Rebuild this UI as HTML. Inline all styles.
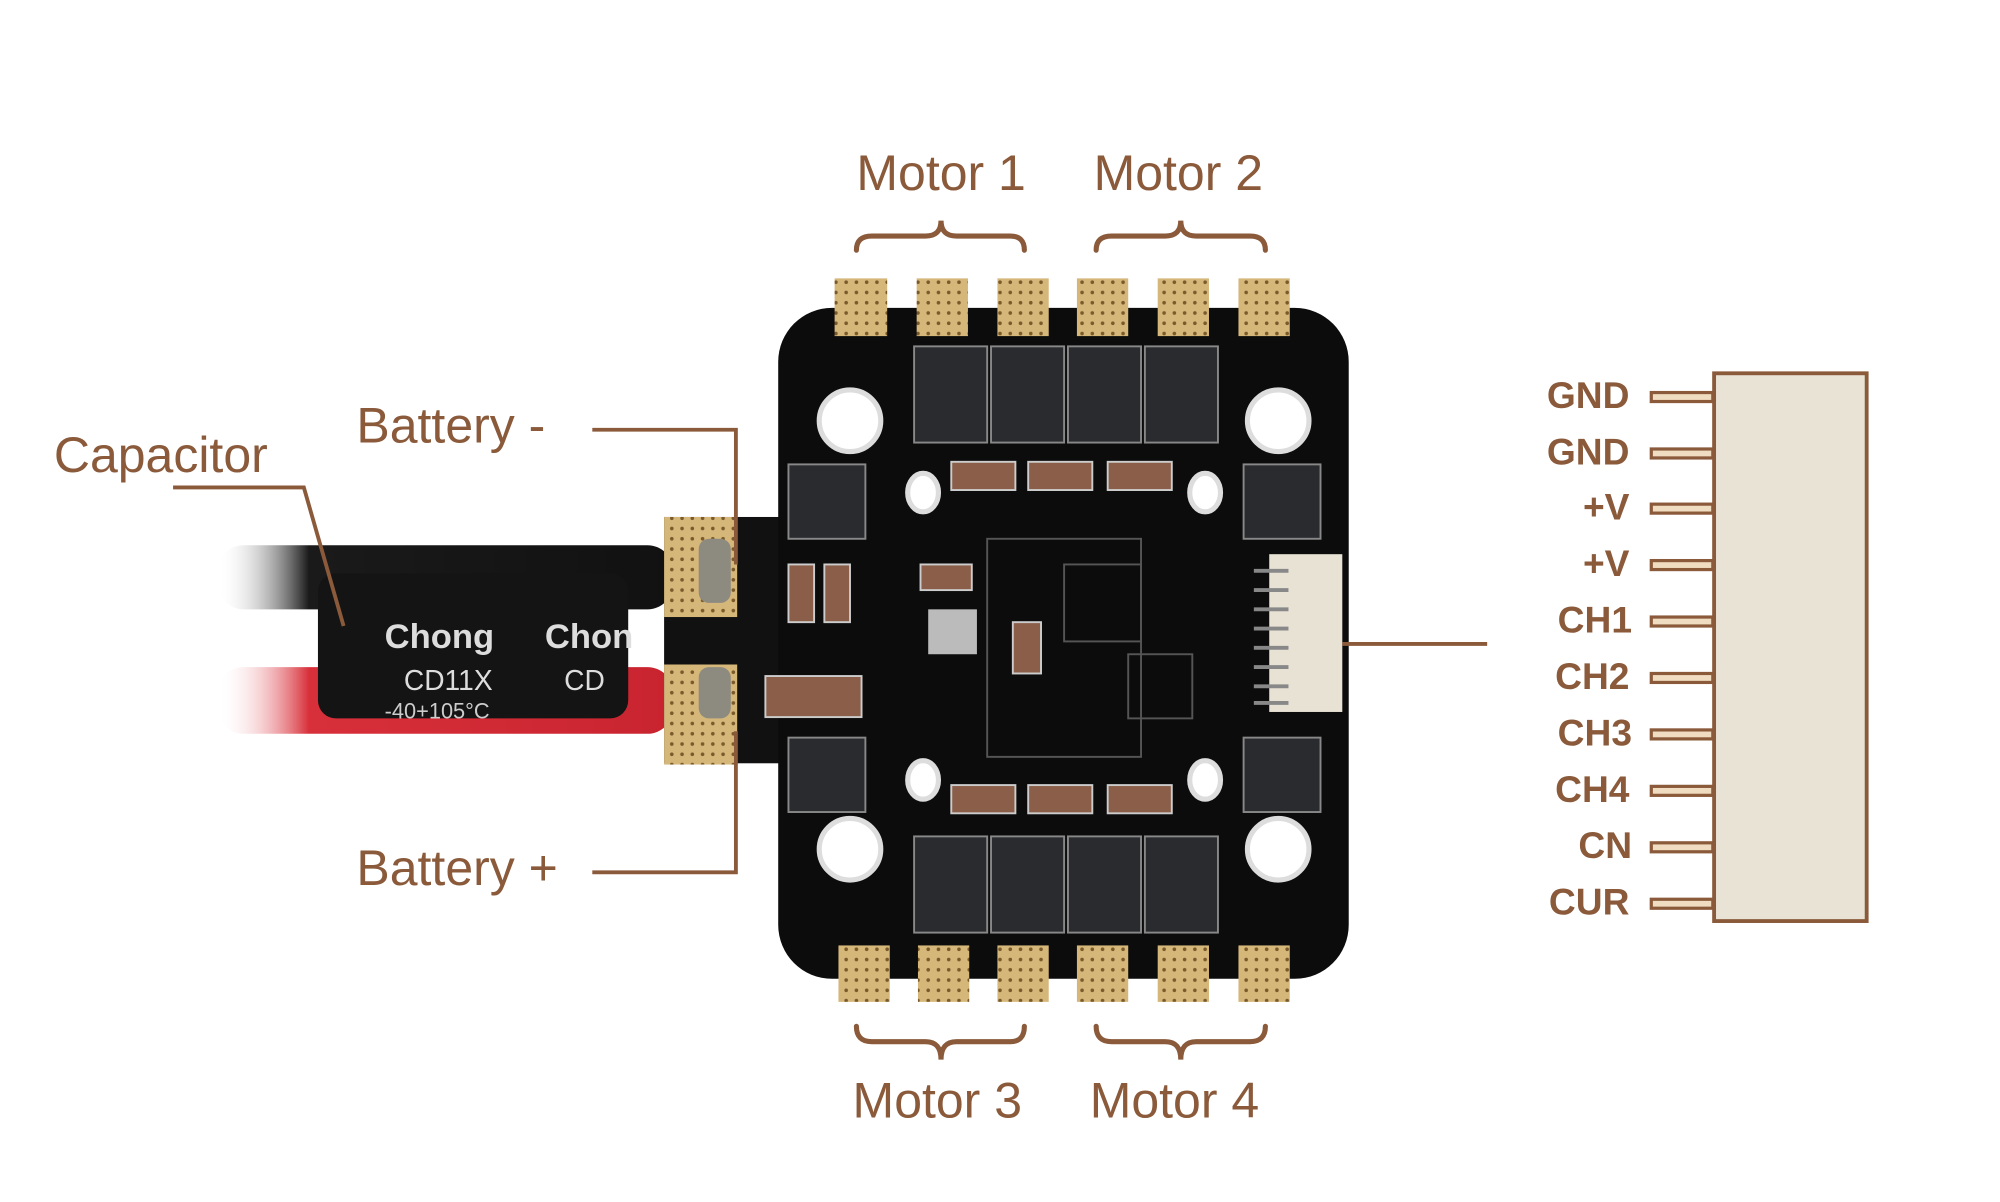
<!DOCTYPE html>
<html><head><meta charset="utf-8"><style>
html,body{margin:0;padding:0;background:#fff;}
svg{display:block;}
.lbl{font-family:"Liberation Sans",sans-serif;fill:#8a5a3b;}
</style></head><body>
<svg width="2000" height="1202" viewBox="0 0 1560 937" preserveAspectRatio="none" xmlns="http://www.w3.org/2000/svg">
<defs>
<pattern id="dots" width="8" height="8" patternUnits="userSpaceOnUse">
<rect width="8" height="8" fill="#d6b77a"/><circle cx="4" cy="4" r="1.4" fill="#7a5a2a"/>
</pattern>
<linearGradient id="wb" x1="0" x2="1"><stop offset="0" stop-color="#fff" stop-opacity="0"/><stop offset="0.2" stop-color="#1a1a1a"/><stop offset="1" stop-color="#111"/></linearGradient>
<linearGradient id="wr" x1="0" x2="1"><stop offset="0" stop-color="#fff" stop-opacity="0"/><stop offset="0.2" stop-color="#d8303a"/><stop offset="1" stop-color="#c82430"/></linearGradient>
</defs>

<!-- wires -->
<rect x="170" y="425" width="355" height="50" rx="20" fill="url(#wb)"/>
<rect x="170" y="520" width="355" height="52" rx="20" fill="url(#wr)"/>
<!-- capacitor -->
<rect x="248" y="447" width="242" height="113" rx="14" fill="#141414"/>
<text x="300" y="505" font-family="Liberation Sans,sans-serif" font-size="27" font-weight="bold" fill="#ddd">Chong</text>
<text x="425" y="505" font-family="Liberation Sans,sans-serif" font-size="27" font-weight="bold" fill="#ddd">Chon</text>
<text x="315" y="538" font-family="Liberation Sans,sans-serif" font-size="22" fill="#ddd">CD11X</text>
<text x="440" y="538" font-family="Liberation Sans,sans-serif" font-size="22" fill="#ddd">CD</text>
<text x="300" y="560" font-family="Liberation Sans,sans-serif" font-size="17" fill="#ccc">-40+105°C</text>

<!-- left tab -->
<rect x="518" y="403" width="95" height="192" fill="#111"/>
<rect x="518" y="403" width="57" height="78" fill="url(#dots)"/>
<rect x="518" y="518" width="57" height="78" fill="url(#dots)"/>
<rect x="545" y="420" width="25" height="50" rx="8" fill="#8d8a80"/>
<rect x="545" y="520" width="25" height="40" rx="8" fill="#8d8a80"/>

<!-- board -->
<rect x="607" y="240" width="445" height="523" rx="42" fill="#0c0c0c"/>
<!-- top pads -->
<g fill="url(#dots)">
<rect x="651" y="217" width="41" height="45"/><rect x="715" y="217" width="40" height="45"/><rect x="778" y="217" width="40" height="45"/>
<rect x="840" y="217" width="40" height="45"/><rect x="903" y="217" width="40" height="45"/><rect x="966" y="217" width="40" height="45"/>
<rect x="654" y="737" width="40" height="44"/><rect x="716" y="737" width="40" height="44"/><rect x="778" y="737" width="40" height="44"/>
<rect x="840" y="737" width="40" height="44"/><rect x="903" y="737" width="40" height="44"/><rect x="966" y="737" width="40" height="44"/>
</g>
<!-- mosfets -->
<g fill="#2a2b2e" stroke="#888" stroke-width="1.5">
<rect x="713" y="270" width="57" height="75"/><rect x="773" y="270" width="57" height="75"/><rect x="833" y="270" width="57" height="75"/><rect x="893" y="270" width="57" height="75"/>
<rect x="713" y="652" width="57" height="75"/><rect x="773" y="652" width="57" height="75"/><rect x="833" y="652" width="57" height="75"/><rect x="893" y="652" width="57" height="75"/>
<rect x="615" y="362" width="60" height="58"/><rect x="970" y="362" width="60" height="58"/>
<rect x="615" y="575" width="60" height="58"/><rect x="970" y="575" width="60" height="58"/>
</g>
<!-- holes -->
<g fill="#fff" stroke="#ddd" stroke-width="4">
<circle cx="663" cy="328" r="24"/><circle cx="997" cy="328" r="24"/><circle cx="663" cy="662" r="24"/><circle cx="997" cy="662" r="24"/>
<ellipse cx="720" cy="384" rx="12" ry="15"/><ellipse cx="940" cy="384" rx="12" ry="15"/><ellipse cx="720" cy="608" rx="12" ry="15"/><ellipse cx="940" cy="608" rx="12" ry="15"/>
</g>
<!-- caps -->
<g fill="#8a5e48" stroke="#ccc" stroke-width="1.5">
<rect x="742" y="360" width="50" height="22"/><rect x="802" y="360" width="50" height="22"/><rect x="864" y="360" width="50" height="22"/>
<rect x="742" y="612" width="50" height="22"/><rect x="802" y="612" width="50" height="22"/><rect x="864" y="612" width="50" height="22"/>
<rect x="597" y="527" width="75" height="32"/><rect x="718" y="440" width="40" height="20"/><rect x="790" y="485" width="22" height="40"/>
<rect x="615" y="440" width="20" height="45"/><rect x="643" y="440" width="20" height="45"/>
</g>
<rect x="724" y="475" width="38" height="35" fill="#bbb"/>
<g fill="none" stroke="#555" stroke-width="1.5">
<rect x="770" y="420" width="120" height="170"/><rect x="830" y="440" width="60" height="60"/><rect x="880" y="510" width="50" height="50"/>
</g>
<!-- connector -->
<rect x="990" y="432" width="57" height="123" fill="#e8e2d4"/>
<g stroke="#888" stroke-width="3"><line x1="978" y1="445" x2="1005" y2="445"/><line x1="978" y1="460" x2="1005" y2="460"/><line x1="978" y1="475" x2="1005" y2="475"/><line x1="978" y1="490" x2="1005" y2="490"/><line x1="978" y1="505" x2="1005" y2="505"/><line x1="978" y1="520" x2="1005" y2="520"/><line x1="978" y1="535" x2="1005" y2="535"/><line x1="978" y1="548" x2="1005" y2="548"/></g>

<!-- leaders -->
<g stroke="#8a5a3b" stroke-width="3" fill="none">
<polyline points="135,380 237,380 268,488"/>
<polyline points="462,335 574,335 574,440"/>
<polyline points="462,680 574,680 574,570"/>
<line x1="1047" y1="502" x2="1160" y2="502"/>
</g>
<!-- braces -->
<g stroke="#8a5a3b" stroke-width="4" fill="none" stroke-linecap="round">
<path d="M668,195 Q668,184 680,184 L722,184 Q734,184 734,172 Q734,184 746,184 L788,184 Q799,184 799,195"/>
<path d="M855,195 Q855,184 867,184 L909,184 Q921,184 921,172 Q921,184 933,184 L975,184 Q987,184 987,195"/>
<path d="M668,800 Q668,812 680,812 L722,812 Q734,812 734,826 Q734,812 746,812 L788,812 Q799,812 799,800"/>
<path d="M855,800 Q855,812 867,812 L909,812 Q921,812 921,826 Q921,812 933,812 L975,812 Q987,812 987,800"/>
</g>
<!-- labels -->
<g class="lbl" font-size="39">
<text x="668" y="148">Motor 1</text>
<text x="853" y="148">Motor 2</text>
<text x="665" y="871">Motor 3</text>
<text x="850" y="871">Motor 4</text>
<text x="42" y="368">Capacitor</text>
<text x="278" y="345">Battery -</text>
<text x="278" y="690">Battery +</text>
</g>

<!-- right connector diagram -->
<rect x="1337" y="291" width="119" height="427" fill="#e9e3d6" stroke="#8a5a3b" stroke-width="3"/>
<g fill="#f0dcc0" stroke="#8a5a3b" stroke-width="2.5">
<rect x="1288" y="306" width="48" height="7"/><rect x="1288" y="350" width="48" height="7"/><rect x="1288" y="393" width="48" height="7"/>
<rect x="1288" y="437" width="48" height="7"/><rect x="1288" y="481" width="48" height="7"/><rect x="1288" y="525" width="48" height="7"/>
<rect x="1288" y="569" width="48" height="7"/><rect x="1288" y="613" width="48" height="7"/><rect x="1288" y="657" width="48" height="7"/>
<rect x="1288" y="701" width="48" height="7"/>
</g>
<g class="lbl" font-size="29" font-weight="bold" text-anchor="end">
<text x="1271" y="318">GND</text><text x="1271" y="362">GND</text><text x="1271" y="405">+V</text><text x="1271" y="449">+V</text>
<text x="1273" y="493">CH1</text><text x="1271" y="537">CH2</text><text x="1273" y="581">CH3</text><text x="1271" y="625">CH4</text>
<text x="1273" y="669">CN</text><text x="1271" y="713">CUR</text>
</g>
</svg>
</body></html>
